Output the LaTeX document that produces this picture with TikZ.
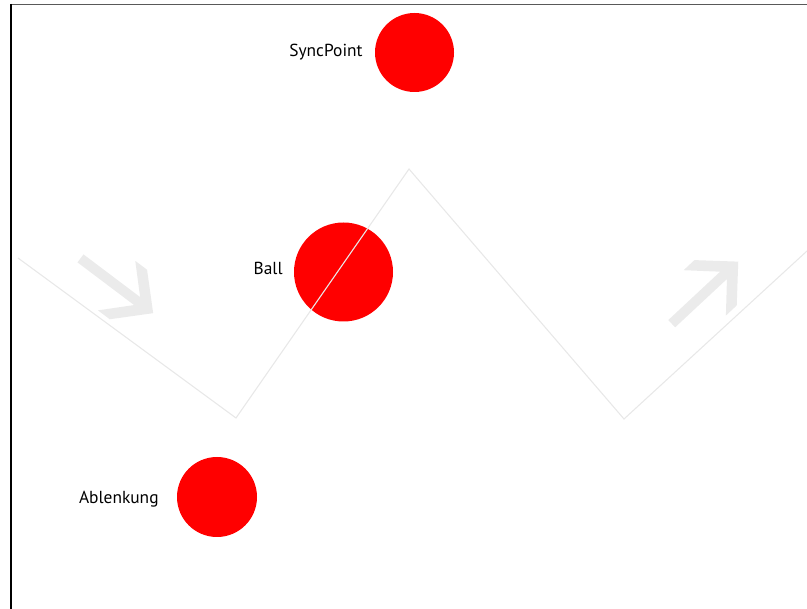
\documentclass[tikz,border=0pt]{standalone}
\usepackage{fontspec}
\setmainfont{PT Sans}
\usetikzlibrary{positioning}
\usepackage{xcolor}

\definecolor{bolavermelha}{RGB}{255,0,0}
\definecolor{trilho}{RGB}{232,232,232}
\definecolor{setacinza}{RGB}{235,235,235}

\begin{document}
\begin{tikzpicture}[
    x=1pt, y=-1pt,
    node distance=12pt,
    bola/.style={circle, fill=bolavermelha, inner sep=0pt},
    rotulo/.style={inner sep=0pt, font=\fontsize{17.4}{20}\selectfont},
    fatarrow/.pic={
        \fill[setacinza] (0,-5) -- (70.9,-5) -- (45.2,-31) -- (60,-31) -- (91,0)
            -- (60,31) -- (45.2,31) -- (70.9,5) -- (0,5) -- cycle;
    }
]
\useasboundingbox (0,0) rectangle (807,609);

% Moldura (só em cima e à esquerda)
\draw[black!65, line width=1.3pt] (11,4.5) -- (807,4.5);
\draw[black, line width=1.3pt] (11,4) -- (11,609);

% Setas de fundo
\pic (setaesq) [rotate=-37] at (80.5,258.4) {fatarrow};
\pic (setadir) [rotate=43] at (671.7,323.7) {fatarrow};

% Bolas
\node[bola, minimum size=79pt] (syncpoint) at (414.5,52.5) {};
\node[bola, minimum size=99pt] (ball) at (343.5,272) {};
\node[bola, minimum size=80pt] (ablenkung) at (217,497) {};

% Rótulos
\node[rotulo, left=12pt of syncpoint] (lsync) {SyncPoint};
\node[rotulo, left=11pt of ball, yshift=4pt] (lball) {Ball};
\node[rotulo, left=18pt of ablenkung, yshift=-2pt] (lablenk) {Ablenkung};

% Trilho em zigue-zague
\coordinate (z0) at (18,258);
\coordinate (z1) at (236,418);
\coordinate (z2) at (409,169);
\coordinate (z3) at (624,419);
\coordinate (z4) at (807,251);
\draw[trilho, line width=1.1pt] (z0) -- (z1) -- (z2) -- (z3) -- (z4);

\end{tikzpicture}
\end{document}
